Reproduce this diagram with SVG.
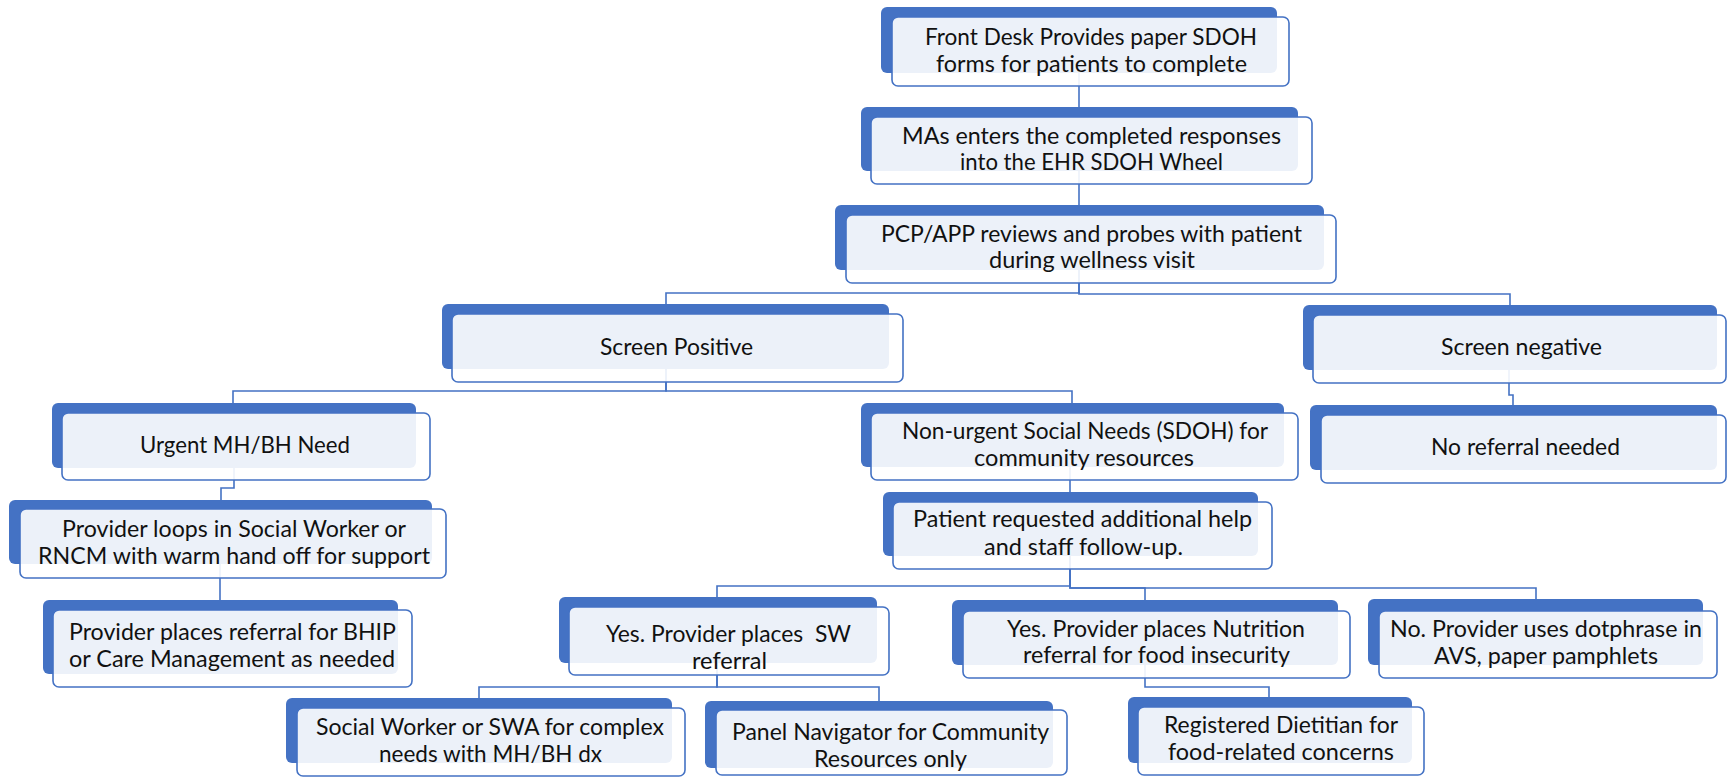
<svg xmlns="http://www.w3.org/2000/svg" width="1728" height="778" viewBox="0 0 1728 778">
<style>
.back{fill:#4472C4}
.front{fill:#ffffff;fill-opacity:0.9;stroke:#4472C4;stroke-width:1.6}
.t{font-family:Lato,"Liberation Sans",sans-serif;font-size:23px;fill:#111111}
.c{fill:none;stroke:#4472C4;stroke-width:1.6}
</style>
<rect width="1728" height="778" fill="#ffffff"/>
<g id="connectors">
<path class="c" d="M1079 73 V107"/>
<path class="c" d="M1079 171 V205"/>
<path class="c" d="M1079 270 V293 H666 V304"/>
<path class="c" d="M1079 270 V294 H1510 V305"/>
<path class="c" d="M666 369 V391 H233 V403"/>
<path class="c" d="M666 369 V391 H1072 V403"/>
<path class="c" d="M1509 370 V395 H1513 V405"/>
<path class="c" d="M234 468 V488 H221 V500"/>
<path class="c" d="M220 564 V600"/>
<path class="c" d="M1070 467 V492"/>
<path class="c" d="M1070 556 V586 H717 V597"/>
<path class="c" d="M1070 556 V588 H1145 V600"/>
<path class="c" d="M1070 556 V588 H1536 V599"/>
<path class="c" d="M717 663 V687 H479 V698"/>
<path class="c" d="M717 663 V687 H879 V701"/>
<path class="c" d="M1145 665 V687 H1269 V697"/>
</g>
<g id="n1"><rect class="back" x="881" y="7" width="396" height="66" rx="6"/><rect class="front" x="892" y="17" width="397" height="69" rx="6"/>
<text class="t" x="925" y="45" textLength="332" lengthAdjust="spacingAndGlyphs">Front Desk Provides paper SDOH</text>
<text class="t" x="936" y="72" textLength="311" lengthAdjust="spacingAndGlyphs">forms for patients to complete</text></g>
<g id="n2"><rect class="back" x="861" y="107" width="437" height="64" rx="6"/><rect class="front" x="871" y="117" width="441" height="67" rx="6"/>
<text class="t" x="902" y="144" textLength="379" lengthAdjust="spacingAndGlyphs">MAs enters the completed responses</text>
<text class="t" x="960" y="170" textLength="263" lengthAdjust="spacingAndGlyphs">into the EHR SDOH Wheel</text></g>
<g id="n3"><rect class="back" x="835" y="205" width="489" height="65" rx="6"/><rect class="front" x="846" y="215" width="490" height="68" rx="6"/>
<text class="t" x="881" y="242" textLength="421" lengthAdjust="spacingAndGlyphs">PCP/APP reviews and probes with patient</text>
<text class="t" x="989" y="268" textLength="206" lengthAdjust="spacingAndGlyphs">during wellness visit</text></g>
<g id="n4"><rect class="back" x="442" y="304" width="447" height="65" rx="6"/><rect class="front" x="452" y="314" width="451" height="68" rx="6"/>
<text class="t" x="600" y="355" textLength="153" lengthAdjust="spacingAndGlyphs">Screen Positive</text></g>
<g id="n5"><rect class="back" x="1303" y="305" width="414" height="65" rx="6"/><rect class="front" x="1313" y="315" width="413" height="68" rx="6"/>
<text class="t" x="1441" y="355" textLength="161" lengthAdjust="spacingAndGlyphs">Screen negative</text></g>
<g id="n6"><rect class="back" x="1310" y="405" width="407" height="65" rx="6"/><rect class="front" x="1321" y="415" width="405" height="68" rx="6"/>
<text class="t" x="1431" y="455" textLength="189" lengthAdjust="spacingAndGlyphs">No referral needed</text></g>
<g id="n7"><rect class="back" x="52" y="403" width="364" height="65" rx="6"/><rect class="front" x="62" y="413" width="368" height="67" rx="6"/>
<text class="t" x="140" y="453" textLength="210" lengthAdjust="spacingAndGlyphs">Urgent MH/BH Need</text></g>
<g id="n8"><rect class="back" x="9" y="500" width="423" height="64" rx="6"/><rect class="front" x="20" y="509" width="426" height="69" rx="6"/>
<text class="t" x="62" y="537" textLength="344" lengthAdjust="spacingAndGlyphs">Provider loops in Social Worker or</text>
<text class="t" x="38" y="564" textLength="392" lengthAdjust="spacingAndGlyphs">RNCM with warm hand off for support</text></g>
<g id="n9"><rect class="back" x="43" y="600" width="355" height="74" rx="6"/><rect class="front" x="53" y="610" width="359" height="77" rx="6"/>
<text class="t" x="69" y="640" textLength="327" lengthAdjust="spacingAndGlyphs">Provider places referral for BHIP</text>
<text class="t" x="69" y="667" textLength="326" lengthAdjust="spacingAndGlyphs">or Care Management as needed</text></g>
<g id="n10"><rect class="back" x="861" y="403" width="423" height="64" rx="6"/><rect class="front" x="871" y="413" width="427" height="67" rx="6"/>
<text class="t" x="902" y="439" textLength="366" lengthAdjust="spacingAndGlyphs">Non-urgent Social Needs (SDOH) for</text>
<text class="t" x="974" y="466" textLength="220" lengthAdjust="spacingAndGlyphs">community resources</text></g>
<g id="n11"><rect class="back" x="883" y="492" width="375" height="64" rx="6"/><rect class="front" x="893" y="502" width="379" height="67" rx="6"/>
<text class="t" x="913" y="527" textLength="339" lengthAdjust="spacingAndGlyphs">Patient requested additional help</text>
<text class="t" x="984" y="555" textLength="199" lengthAdjust="spacingAndGlyphs">and staff follow-up.</text></g>
<g id="n12"><rect class="back" x="559" y="597" width="318" height="66" rx="6"/><rect class="front" x="569" y="607" width="320" height="68" rx="6"/>
<text class="t" x="606" y="642" textLength="245" lengthAdjust="spacingAndGlyphs" style="white-space:pre">Yes. Provider places  SW</text>
<text class="t" x="692" y="669" textLength="75" lengthAdjust="spacingAndGlyphs">referral</text></g>
<g id="n13"><rect class="back" x="952" y="600" width="386" height="65" rx="6"/><rect class="front" x="963" y="611" width="387" height="67" rx="6"/>
<text class="t" x="1007" y="637" textLength="298" lengthAdjust="spacingAndGlyphs">Yes. Provider places Nutrition</text>
<text class="t" x="1023" y="663" textLength="267" lengthAdjust="spacingAndGlyphs">referral for food insecurity</text></g>
<g id="n14"><rect class="back" x="1368" y="599" width="335" height="66" rx="6"/><rect class="front" x="1379" y="611" width="338" height="67" rx="6"/>
<text class="t" x="1390" y="637" textLength="312" lengthAdjust="spacingAndGlyphs">No. Provider uses dotphrase in</text>
<text class="t" x="1434" y="664" textLength="224" lengthAdjust="spacingAndGlyphs">AVS, paper pamphlets</text></g>
<g id="n15"><rect class="back" x="286" y="698" width="386" height="65" rx="6"/><rect class="front" x="297" y="708" width="388" height="68" rx="6"/>
<text class="t" x="316" y="735" textLength="348" lengthAdjust="spacingAndGlyphs">Social Worker or SWA for complex</text>
<text class="t" x="379" y="762" textLength="223" lengthAdjust="spacingAndGlyphs">needs with MH/BH dx</text></g>
<g id="n16"><rect class="back" x="705" y="701" width="348" height="67" rx="6"/><rect class="front" x="716" y="710" width="351" height="65" rx="6"/>
<text class="t" x="732" y="740" textLength="317" lengthAdjust="spacingAndGlyphs">Panel Navigator for Community</text>
<text class="t" x="814" y="767" textLength="153" lengthAdjust="spacingAndGlyphs">Resources only</text></g>
<g id="n17"><rect class="back" x="1128" y="697" width="284" height="66" rx="6"/><rect class="front" x="1138" y="707" width="286" height="68" rx="6"/>
<text class="t" x="1164" y="733" textLength="234" lengthAdjust="spacingAndGlyphs">Registered Dietitian for</text>
<text class="t" x="1168" y="760" textLength="226" lengthAdjust="spacingAndGlyphs">food-related concerns</text></g>
</svg>
